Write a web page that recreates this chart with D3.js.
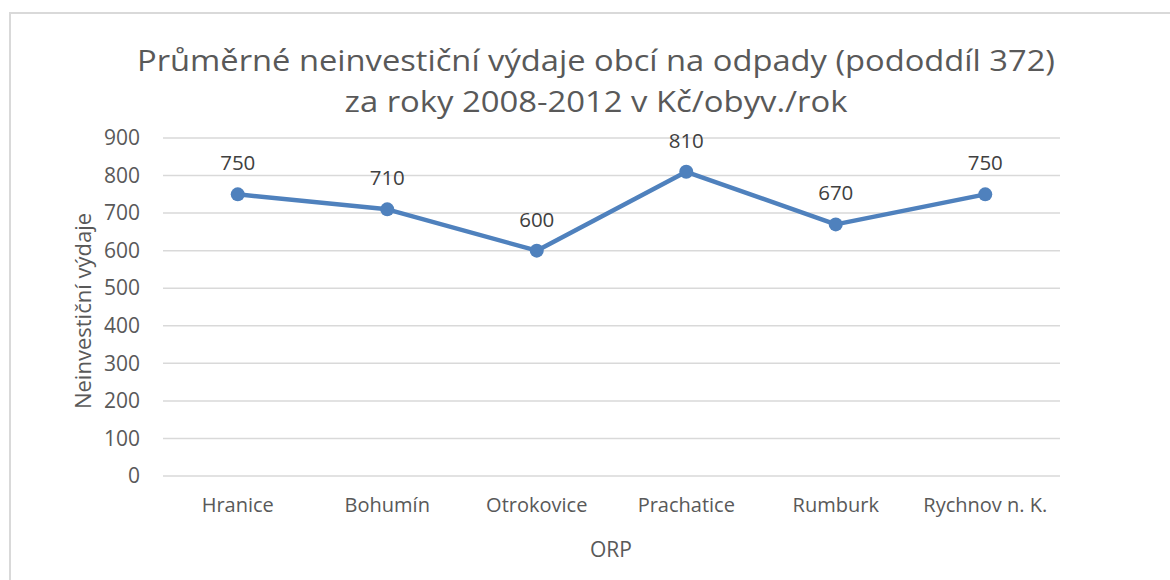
<!DOCTYPE html>
<html><head><meta charset="utf-8">
<script src="https://cdn.jsdelivr.net/npm/d3@7"></script>
<style>body{margin:0;background:#fff;}svg{display:block;}</style>
</head><body>
<svg id="c" width="1170" height="580"></svg>
<script>
const categories = ["Hranice","Bohumín","Otrokovice","Prachatice","Rumburk","Rychnov n. K."];
const values = [750,710,600,810,670,750];
const yTicks = [0,100,200,300,400,500,600,700,800,900];
const titleLines = ["Průměrné neinvestiční výdaje obcí na odpady (pododdíl 372)","za roky 2008-2012 v Kč/obyv./rok"];
const yTitle = "Neinvestiční výdaje";
const xTitle = "ORP";

const font = "Open Sans, Lato, sans-serif";
const svg = d3.select("#c");
svg.append("rect").attr("x",10).attr("y",13).attr("width",1200).attr("height",600)
  .attr("fill","#fff").attr("stroke","#d9d9d9").attr("stroke-width",2);

const L=163,R=1060,T=138,B=476;
const x = d3.scaleBand().domain(categories).range([L,R]);
const y = d3.scaleLinear().domain([0,900]).range([B,T]);

const g = svg.append("g");
g.selectAll("line.grid").data(yTicks).join("line").attr("class","grid")
  .attr("x1",L).attr("x2",R).attr("y1",d=>y(d)).attr("y2",d=>y(d))
  .attr("stroke","#d9d9d9").attr("stroke-width",1.5);

const yAxis = svg.append("g").attr("transform",`translate(${L},0)`)
  .call(d3.axisLeft(y).tickValues(yTicks).tickSize(0).tickPadding(23));
yAxis.select(".domain").remove();
yAxis.selectAll("text").attr("font-family",font).attr("font-size",21).attr("fill","#595959");

const xAxis = svg.append("g").attr("transform",`translate(0,${B})`)
  .call(d3.axisBottom(x).tickSize(0).tickPadding(22));
xAxis.select(".domain").remove();
xAxis.selectAll("text").attr("font-family",font).attr("font-size",20).attr("fill","#595959");

const cx = d=>x(d)+x.bandwidth()/2;
const line = d3.line().x((d,i)=>cx(categories[i])).y(d=>y(d));
svg.append("path").datum(values).attr("d",line).attr("fill","none")
  .attr("stroke","#4f81bd").attr("stroke-width",4.5).attr("stroke-linejoin","round");
svg.selectAll("circle.pt").data(values).join("circle").attr("class","pt")
  .attr("cx",(d,i)=>cx(categories[i])).attr("cy",d=>y(d)).attr("r",7).attr("fill","#4f81bd");
svg.selectAll("text.lbl").data(values).join("text").attr("class","lbl")
  .attr("x",(d,i)=>cx(categories[i])).attr("y",d=>y(d)-24)
  .attr("text-anchor","middle").attr("font-family",font).attr("font-size",20.5).attr("fill","#404040")
  .text(d=>d);

const titleW = [918, 503];
svg.selectAll("text.title").data(titleLines).join("text").attr("class","title")
  .attr("x",596).attr("y",(d,i)=>71+i*41).attr("text-anchor","middle")
  .attr("font-family",font).attr("font-size",30).attr("fill","#595959")
  .attr("textLength",(d,i)=>titleW[i]).attr("lengthAdjust","spacingAndGlyphs").text(d=>d);

svg.append("text").attr("transform",`translate(91,${(T+B)/2+4}) rotate(-90)`)
  .attr("text-anchor","middle").attr("font-family",font).attr("font-size",22).attr("fill","#595959").text(yTitle);
svg.append("text").attr("x",611).attr("y",557).attr("text-anchor","middle")
  .attr("font-family",font).attr("font-size",21).attr("fill","#595959").text(xTitle);
</script>
</body></html>
